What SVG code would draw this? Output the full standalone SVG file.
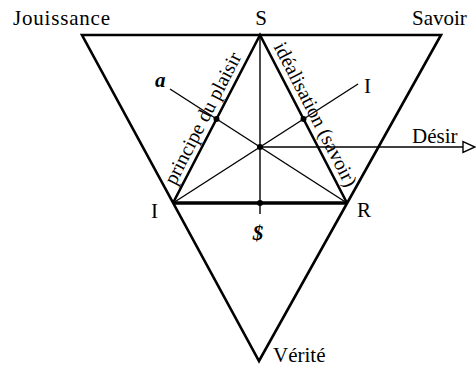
<svg xmlns="http://www.w3.org/2000/svg" width="476" height="369" viewBox="0 0 476 369">
<style>
text{font-family:"Liberation Serif","Times New Roman",serif;fill:#000;}
.lbl{font-size:21px;}
.rot{font-size:20px;}
.it{font-style:italic;}
.thick{stroke:#000;stroke-width:2.6;fill:none;stroke-linejoin:miter;}
.base{stroke:#000;stroke-width:3.4;fill:none;}
.thin{stroke:#000;stroke-width:1.4;fill:none;}
.dot{fill:#000;}
</style>
<g id="connectors">
  <polygon id="outer" class="thick" points="82,35 441,35 259,361"/>
  <polyline class="thick" points="173,203 260,35 347,203"/>
  <line class="base" x1="173" y1="203" x2="347" y2="203"/>
  <line class="thin" x1="260" y1="35" x2="260" y2="214"/>
  <line class="thin" x1="347" y1="203" x2="170" y2="89"/>
  <line class="thin" x1="173" y1="203" x2="358" y2="84"/>
  <line class="thin" x1="260" y1="147" x2="463" y2="147"/>
  <polygon points="463,141.5 463,152.5 475,147" fill="#fff" stroke="#000" stroke-width="1.4"/>
  <circle class="dot" cx="260" cy="147" r="3"/>
  <circle class="dot" cx="216.5" cy="119" r="3"/>
  <circle class="dot" cx="303.5" cy="119" r="3"/>
  <circle class="dot" cx="260" cy="203" r="3"/>
</g>
<g id="node-jouissance"><text class="lbl" x="13" y="25" textLength="97" lengthAdjust="spacing">Jouissance</text></g>
<g id="node-S"><text class="lbl" x="261" y="25" text-anchor="middle">S</text></g>
<g id="node-savoir"><text class="lbl" x="412" y="25">Savoir</text></g>
<g id="node-a"><text class="lbl it" x="155" y="87" font-weight="bold">a</text></g>
<g id="node-I-top"><text class="lbl" x="364" y="93">I</text></g>
<g id="node-desir"><text class="lbl" x="412" y="143">Désir</text></g>
<g id="node-I"><text class="lbl" x="151" y="218">I</text></g>
<g id="node-R"><text class="lbl" x="357" y="217">R</text></g>
<g id="node-barredS"><text class="lbl it" x="258" y="240" text-anchor="middle" font-weight="bold">$</text></g>
<g id="node-verite"><text class="lbl" x="273" y="362">Vérité</text></g>
<g id="label-principe"><text class="rot" transform="translate(175.2,186.1) rotate(-62.8)">principe du plaisir</text></g>
<g id="label-idealisation"><text class="rot" transform="translate(273.3,46.6) rotate(62.8)">idéalisation (savoir)</text></g>
</svg>
